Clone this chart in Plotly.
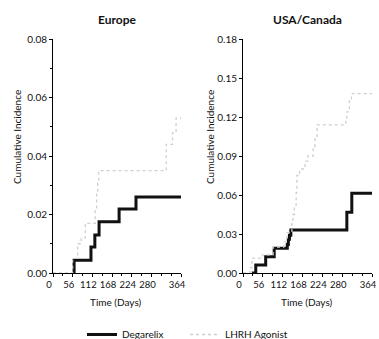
import plotly.graph_objects as go

# ---- data ----
x_tick_vals = [0, 56, 112, 168, 224, 280, 364]
eu_y_ticks = [0.00, 0.02, 0.04, 0.06, 0.08]
us_y_ticks = [0.00, 0.03, 0.06, 0.09, 0.12, 0.15, 0.18]

eu_deg_days = [60, 60, 108, 119, 131, 188, 236, 364]
eu_deg_vals = [0, 0.0044, 0.0089, 0.013, 0.0175, 0.0219, 0.026, 0.026]

eu_lhrh_days = [0, 56, 70, 80, 92, 120, 124, 127, 130, 322, 340, 350, 364]
eu_lhrh_vals = [0, 0.005, 0.010, 0.012, 0.017, 0.022, 0.027, 0.031, 0.035, 0.044, 0.048, 0.053, 0.053]

us_deg_days = [25, 36, 64, 88, 125, 128, 131, 135, 293, 307, 364]
us_deg_vals = [0, 0.0062, 0.0125, 0.019, 0.022, 0.026, 0.029, 0.033, 0.0467, 0.0613, 0.0613]

us_lhrh_days = [0, 20, 25, 55, 85, 115, 124, 138, 141, 145, 150, 152, 160, 175, 183, 198,
                203, 209, 290, 293, 300, 306, 364]
us_lhrh_vals = [0, 0.004, 0.0115, 0.014, 0.02, 0.024, 0.031, 0.038, 0.045, 0.052, 0.062, 0.075,
                0.08, 0.086, 0.09, 0.097, 0.104, 0.114, 0.118, 0.124, 0.133, 0.138, 0.138]

W, H = 379, 339
FONT = "Lato"
TXT = "#111111"
DEG_COLOR = "#111111"
LHRH_COLOR = "#cfcfcf"

fig = go.Figure()

fig.add_trace(go.Scatter(x=eu_deg_days, y=eu_deg_vals, mode="lines", line_shape="hv",
                         line=dict(color=DEG_COLOR, width=3), name="Degarelix",
                         xaxis="x", yaxis="y", legendgroup="deg"))
fig.add_trace(go.Scatter(x=eu_lhrh_days, y=eu_lhrh_vals, mode="lines", line_shape="hv",
                         line=dict(color=LHRH_COLOR, width=1.3, dash="dot"), name="LHRH Agonist",
                         xaxis="x", yaxis="y", legendgroup="lhrh"))
fig.add_trace(go.Scatter(x=us_deg_days, y=us_deg_vals, mode="lines", line_shape="hv",
                         line=dict(color=DEG_COLOR, width=3), name="Degarelix",
                         xaxis="x2", yaxis="y2", legendgroup="deg", showlegend=False))
fig.add_trace(go.Scatter(x=us_lhrh_days, y=us_lhrh_vals, mode="lines", line_shape="hv",
                         line=dict(color=LHRH_COLOR, width=1.3, dash="dot"), name="LHRH Agonist",
                         xaxis="x2", yaxis="y2", legendgroup="lhrh", showlegend=False))

def px_x(p):
    return p / W

def px_y(p):
    return (H - p) / H

xcommon = dict(range=[0, 364], tickvals=x_tick_vals, ticktext=[str(v) for v in x_tick_vals],
               tickangle=0, automargin=False, ticklabelshift=-4,
               showline=True, linecolor="black", linewidth=1, ticks="outside", ticklen=3,
               tickcolor="black", showgrid=False, zeroline=False,
               tickfont=dict(family=FONT, size=9.5, color=TXT),
               minor=dict(tickvals=list(range(0, 365, 28)), ticks="outside", ticklen=2,
                          tickcolor="black", showgrid=False))
ycommon = dict(showline=True, linecolor="black", linewidth=1, ticks="outside", ticklen=3,
               tickcolor="black", showgrid=False, zeroline=False, tickformat=".2f",
               automargin=False, tickfont=dict(family=FONT, size=10, color=TXT))

def ann(text, x, y, size=10, angle=0):
    return dict(text=text, x=px_x(x), y=px_y(y), xref="paper", yref="paper",
                textangle=angle, showarrow=False, xanchor="center", yanchor="middle",
                font=dict(family=FONT, size=size, color=TXT))

fig.update_layout(
    width=W, height=H,
    margin=dict(l=0, r=0, t=0, b=0, autoexpand=False),
    paper_bgcolor="white", plot_bgcolor="white",
    font=dict(family=FONT, size=10, color=TXT),
    xaxis=dict(domain=[px_x(53), px_x(181)], anchor="y", **xcommon),
    yaxis=dict(domain=[px_y(273), px_y(39)], anchor="x", range=[0, 0.08], tickvals=eu_y_ticks,
               minor=dict(dtick=0.01, ticks="outside", ticklen=2, tickcolor="black",
                          showgrid=False),
               **ycommon),
    xaxis2=dict(domain=[px_x(243), px_x(372)], anchor="y2", **xcommon),
    yaxis2=dict(domain=[px_y(273), px_y(39)], anchor="x2", range=[0, 0.18], tickvals=us_y_ticks,
                **ycommon),
    showlegend=True,
    legend=dict(orientation="h", x=px_x(82), xanchor="left", y=px_y(320), yanchor="top",
                font=dict(family=FONT, size=10, color=TXT), bgcolor="rgba(0,0,0,0)",
                entrywidth=58, entrywidthmode="pixels", tracegroupgap=0),
    annotations=[
        ann("<b>Europe</b>", 117, 19, 12),
        ann("<b>USA/Canada</b>", 307, 19, 12),
        ann("Cumulative Incidence", 17, 137, 10, -90),
        ann("Cumulative Incidence", 210, 137, 10, -90),
        ann("Time (Days)", 116, 302, 10),
        ann("Time (Days)", 307, 302, 10),
    ],
)

fig.write_html("out.html", config={"displayModeBar": False},
               post_script="document.body.style.margin='0';document.body.style.overflow='hidden';")
